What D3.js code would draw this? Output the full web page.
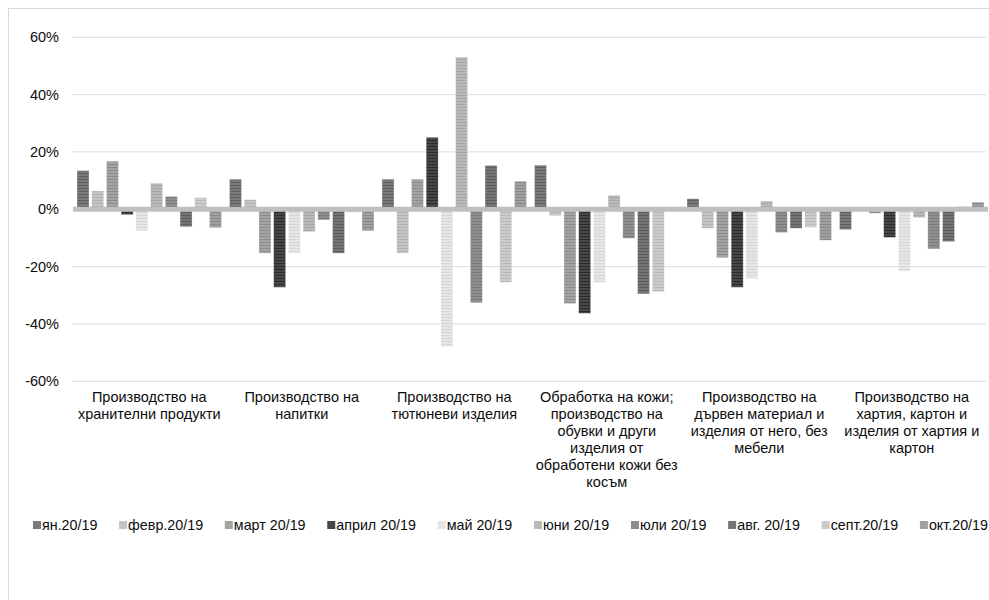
<!DOCTYPE html>
<html>
<head>
<meta charset="utf-8">
<script src="https://cdn.jsdelivr.net/npm/d3@7/dist/d3.min.js"></script>
<style>
  html, body { margin: 0; padding: 0; background: #fff; }
  svg { display: block; font-family: "Liberation Sans", Arial, sans-serif; }
</style>
</head>
<body>
<svg id="chart" width="989" height="600"></svg>
<script>
// Industry groups (x axis) – line breaks as they appear under the axis
const categories = [
  "Производство на\nхранителни продукти",
  "Производство на\nнапитки",
  "Производство на\nтютюневи изделия",
  "Обработка на кожи;\nпроизводство на\nобувки и други\nизделия от\nобработени кожи без\nкосъм",
  "Производство на\nдървен материал и\nизделия от него, без\nмебели",
  "Производство на\nхартия, картон и\nизделия от хартия и\nкартон"
];

// Monthly series: change 2020 vs 2019, %
const seriesNames = ["ян.20/19", "февр.20/19", "март 20/19", "април 20/19", "май 20/19",
                     "юни 20/19", "юли 20/19", "авг. 20/19", "септ.20/19", "окт.20/19"];

const jan  = [13.5, 10.5, 10.5, 15.4, 3.7, -7.1];
const feb  = [6.4, 3.4, -15.3, -2.2, -6.6, 0];
const mar  = [16.8, -15.3, 10.5, -32.9, -16.9, -1.4];
const apr  = [-1.9, -27.2, 25.1, -36.3, -27.2, -9.8];
const may  = [-7.5, -15.3, -47.9, -25.5, -24.2, -21.6];
const jun  = [9.1, -7.8, 53.1, 4.9, 2.9, -2.9];
const jul  = [4.5, -3.7, -32.6, -10.1, -8.1, -13.8];
const aug  = [-6.1, -15.3, 15.3, -29.5, -6.6, -11.3];
const sep  = [4.1, -1.0, -25.5, -28.8, -6.3, 1.0];
const oct  = [-6.4, -7.5, 9.8, 0, -10.8, 2.5];
const seriesValues = [jan, feb, mar, apr, may, jun, jul, aug, sep, oct];

// Value axis
const yTickValues = [-60, -40, -20, 0, 20, 40, 60];
const yTickLabels = ["-60%", "-40%", "-20%", "0%", "20%", "40%", "60%"];

// Grey fills with a fine horizontal line pattern
const fills = [
  ["#7a7a7a", "#5f5f5f"],
  ["#c4c4c4", "#b2b2b2"],
  ["#a3a3a3", "#8d8d8d"],
  ["#474747", "#2c2c2c"],
  ["#e6e6e6", "#d6d6d6"],
  ["#b9b9b9", "#a7a7a7"],
  ["#8f8f8f", "#7b7b7b"],
  ["#747474", "#5d5d5d"],
  ["#cbcbcb", "#bababa"],
  ["#a0a0a0", "#898989"]
];

const textColor = "#0d0d0d";
const svg = d3.select("#chart");
const plot = { left: 73, right: 988, top: 37.3, bottom: 381.3 };

// chart frame
svg.append("rect")
  .attr("x", 8.5).attr("y", 8.5)
  .attr("width", 1100).attr("height", 800)
  .attr("fill", "#fff").attr("stroke", "#d9d9d9").attr("stroke-width", 1);

const defs = svg.append("defs");
fills.forEach((f, i) => {
  const p = defs.append("pattern")
    .attr("id", "fill" + i)
    .attr("patternUnits", "userSpaceOnUse")
    .attr("width", 4).attr("height", 3);
  p.append("rect").attr("width", 4).attr("height", 3).attr("fill", f[0]);
  p.append("rect").attr("y", 2).attr("width", 4).attr("height", 1).attr("fill", f[1]);
});

const x0 = d3.scaleBand()
  .domain(d3.range(categories.length))
  .range([plot.left, plot.right])
  .padding(0);

const groupPad = 4;
const x1 = d3.scaleBand()
  .domain(d3.range(seriesNames.length))
  .range([groupPad, x0.bandwidth() - groupPad])
  .paddingInner(0.184)
  .paddingOuter(0);

const y = d3.scaleLinear()
  .domain([-60, 60])
  .range([plot.bottom, plot.top]);

// gridlines
svg.append("g")
  .selectAll("line")
  .data(yTickValues.filter(v => v !== 0))
  .join("line")
  .attr("x1", plot.left - 1).attr("x2", plot.right - 2)
  .attr("y1", d => y(d)).attr("y2", d => y(d))
  .attr("stroke", "#e3e3e3").attr("stroke-width", 1.2);

// y axis labels
const yAxis = svg.append("g")
  .attr("transform", `translate(${plot.left - 14},0)`)
  .call(d3.axisLeft(y)
    .tickValues(yTickValues)
    .tickFormat((d, i) => yTickLabels[i])
    .tickSize(0)
    .tickPadding(0));
yAxis.select(".domain").remove();
yAxis.selectAll("text")
  .attr("font-size", 14.5)
  .attr("fill", textColor)
  .attr("font-family", "\"Liberation Sans\", Arial, sans-serif");

// bars
const barData = [];
categories.forEach((c, ci) => {
  seriesValues.forEach((vals, si) => {
    barData.push({ ci, si, v: vals[ci] });
  });
});

svg.append("g")
  .selectAll("rect")
  .data(barData)
  .join("rect")
  .attr("x", d => x0(d.ci) + x1(d.si))
  .attr("width", x1.bandwidth())
  .attr("y", d => Math.min(y(d.v), y(0)))
  .attr("height", d => Math.abs(y(d.v) - y(0)))
  .attr("fill", d => `url(#fill${d.si})`)
  .attr("stroke", "#ffffff")
  .attr("stroke-opacity", 0.5)
  .attr("stroke-width", 0.6);

// zero axis line
svg.append("line")
  .attr("x1", plot.left).attr("x2", plot.right)
  .attr("y1", y(0)).attr("y2", y(0))
  .attr("stroke", "#bfbfbf").attr("stroke-width", 5);

// category labels
const xAxis = svg.append("g")
  .attr("transform", `translate(0,${plot.bottom})`)
  .call(d3.axisBottom(x0).tickSize(0).tickFormat(() => ""));
xAxis.select(".domain").remove();
xAxis.selectAll(".tick text").each(function (d) {
  const t = d3.select(this);
  t.text(null)
    .attr("y", 0)
    .attr("dy", null)
    .attr("font-size", 14.5)
    .attr("fill", textColor)
    .attr("font-family", "\"Liberation Sans\", Arial, sans-serif");
  categories[d].split("\n").forEach((line, li) => {
    t.append("tspan")
      .attr("x", 0)
      .attr("y", 21 + li * 16.9)
      .text(line);
  });
});

// legend
const legend = svg.append("g").attr("transform", "translate(0,530)");
const items = legend.selectAll("g")
  .data(seriesNames)
  .join("g");
items.append("rect")
  .attr("width", 8).attr("height", 8)
  .attr("y", -9)
  .attr("fill", (d, i) => fills[i][0]);
items.append("text")
  .attr("x", 9)
  .attr("font-size", 14.3)
  .attr("fill", textColor)
  .text(d => d);

const widths = [];
items.each(function () {
  widths.push(9 + d3.select(this).select("text").node().getComputedTextLength());
});
const legStart = 33, legEnd = 988;
const gap = (legEnd - legStart - d3.sum(widths)) / (widths.length - 1);
let cx = legStart;
items.attr("transform", (d, i) => {
  const tx = cx;
  cx += widths[i] + gap;
  return `translate(${tx},0)`;
});
</script>
</body>
</html>
